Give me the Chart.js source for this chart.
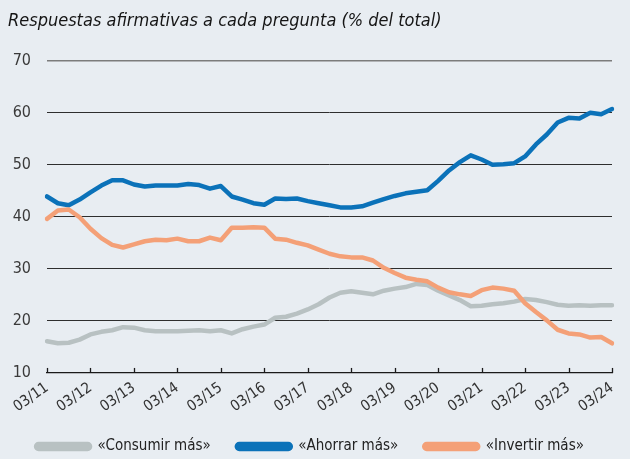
<!DOCTYPE html>
<html>
<head>
<meta charset="utf-8">
<script src="https://cdn.jsdelivr.net/npm/chart.js@4.4.1/dist/chart.umd.min.js"></script>
<style>
  html, body { margin: 0; padding: 0; background: #e8edf2; }
  #wrap { width: 630px; height: 459px; position: relative; }
</style>
</head>
<body>
<div id="wrap"><canvas id="chart"></canvas></div>
<script>
const FONT = "'Liberation Sans Narrow', 'DejaVu Sans Condensed', 'Open Sans', sans-serif";

// quarters from 03/11 to 03/24
const years = ["11","12","13","14","15","16","17","18","19","20","21","22","23","24"];
const months = ["03","06","09","12"];
const periods = [];
for (const y of years) {
    for (const m of months) {
        if (y === "24" && m !== "03") break;
        periods.push(m + "/" + y);
    }
}

const consumir = [16.1, 15.7, 15.8, 16.4, 17.4, 17.9, 18.2, 18.8, 18.7, 18.2, 18.0, 18.0, 18.0, 18.1,
    18.2, 18.0, 18.2, 17.6, 18.4, 18.9, 19.3, 20.6, 20.8, 21.4, 22.2, 23.2, 24.5, 25.4, 25.7, 25.4,
    25.1, 25.8, 26.2, 26.5, 27.1, 26.9, 25.8, 24.9, 24.0, 22.8, 22.9, 23.2, 23.4, 23.7, 24.2, 24.0,
    23.6, 23.1, 22.9, 23.0, 22.9, 23.0, 23.0];

const ahorrar = [43.9, 42.6, 42.2, 43.3, 44.7, 46.0, 47.0, 47.0, 46.2, 45.8, 46.0, 46.0, 46.0, 46.3,
    46.1, 45.4, 45.9, 43.9, 43.3, 42.6, 42.3, 43.5, 43.4, 43.5, 43.0, 42.6, 42.2, 41.8, 41.8, 42.0,
    42.7, 43.4, 44.0, 44.5, 44.8, 45.1, 46.9, 48.9, 50.5, 51.8, 51.0, 50.0, 50.1, 50.3, 51.6, 53.9,
    55.8, 58.1, 59.0, 58.9, 60.0, 59.7, 60.7];

const invertir = [39.6, 41.2, 41.4, 39.9, 37.7, 35.9, 34.6, 34.1, 34.7, 35.3, 35.6, 35.5, 35.8, 35.3,
    35.3, 36.0, 35.5, 37.9, 37.9, 38.0, 37.9, 35.8, 35.6, 35.0, 34.5, 33.7, 32.9, 32.4, 32.2, 32.2,
    31.6, 30.2, 29.2, 28.3, 27.9, 27.6, 26.4, 25.5, 25.1, 24.8, 25.9, 26.4, 26.2, 25.8, 23.4, 21.7,
    20.1, 18.3, 17.6, 17.4, 16.8, 16.9, 15.7];

const seriesNames = ["«Consumir más»", "«Ahorrar más»", "«Invertir más»"];
const seriesColors = ["#b8c1c2", "#0b72b9", "#f4a077"];

// small tick marks pointing up from the x axis, one per year
const upTicks = {
    id: "upTicks",
    afterDraw(chart) {
        const ctx = chart.ctx;
        const xs = chart.scales.x;
        const y0 = chart.scales.y.getPixelForValue(10);
        ctx.save();
        ctx.strokeStyle = "#1a1a1a";
        ctx.lineWidth = 1.3;
        periods.forEach((p, i) => {
            if (i % 4 !== 0) return;
            const x = Math.round(xs.getPixelForValue(i)) + 0.5;
            ctx.beginPath();
            ctx.moveTo(x, y0);
            ctx.lineTo(x, y0 - 5);
            ctx.stroke();
        });
        ctx.restore();
    }
};

const datasets = [consumir, ahorrar, invertir].map((d, i) => ({
    label: seriesNames[i],
    data: d,
    borderColor: seriesColors[i],
    backgroundColor: seriesColors[i],
    borderWidth: 4.5,
    pointRadius: 0,
    tension: 0,
    borderJoinStyle: "round",
    borderCapStyle: "round",
    order: [2, 1, 0][i]
}));

new Chart(document.getElementById("chart"), {
    type: "line",
    data: { labels: periods, datasets: datasets },
    plugins: [upTicks],
    options: {
        responsive: true,
        maintainAspectRatio: false,
        animation: false,
        layout: { padding: { left: 8, right: 18, top: 5, bottom: -5 } },
        plugins: {
            tooltip: { enabled: false },
            title: {
                display: true,
                text: "Respuestas afirmativas a cada pregunta (% del total)",
                align: "start",
                color: "#151515",
                font: { family: FONT, size: 18, style: "italic", weight: "normal" },
                padding: { top: 6, bottom: 28 }
            },
            legend: {
                position: "bottom",
                labels: {
                    color: "#222",
                    font: { family: FONT, size: 15 },
                    boxWidth: 54,
                    boxHeight: 5,
                    useBorderRadius: true,
                    borderRadius: 2.5,
                    padding: 26,
                    sort: (a, b) => a.datasetIndex - b.datasetIndex
                }
            }
        },
        scales: {
            x: {
                type: "category",
                offset: false,
                afterFit: (s) => { s.height -= 9; },
                grid: { display: false, drawTicks: false },
                border: { display: true, color: "#1a1a1a", width: 1.3 },
                ticks: {
                    autoSkip: false,
                    maxRotation: 35,
                    minRotation: 35,
                    padding: 6,
                    color: "#333",
                    font: { family: FONT, size: 15 },
                    callback: (v, i) => (i % 4 === 0 ? periods[i] : "")
                }
            },
            y: {
                min: 10,
                max: 70,
                afterFit: (s) => { s.width = 39; },
                border: { display: false },
                grid: {
                    drawTicks: false,
                    color: (c) => (c.tick && c.tick.value === 70 ? "#7c7c7c" : "#2e2e2e"),
                    lineWidth: (c) => (c.tick && c.tick.value === 70 ? 1.6 : 1)
                },
                ticks: {
                    stepSize: 10,
                    padding: 16,
                    color: "#3a3a3a",
                    font: { family: FONT, size: 16 }
                }
            }
        }
    }
});
</script>
</body>
</html>
